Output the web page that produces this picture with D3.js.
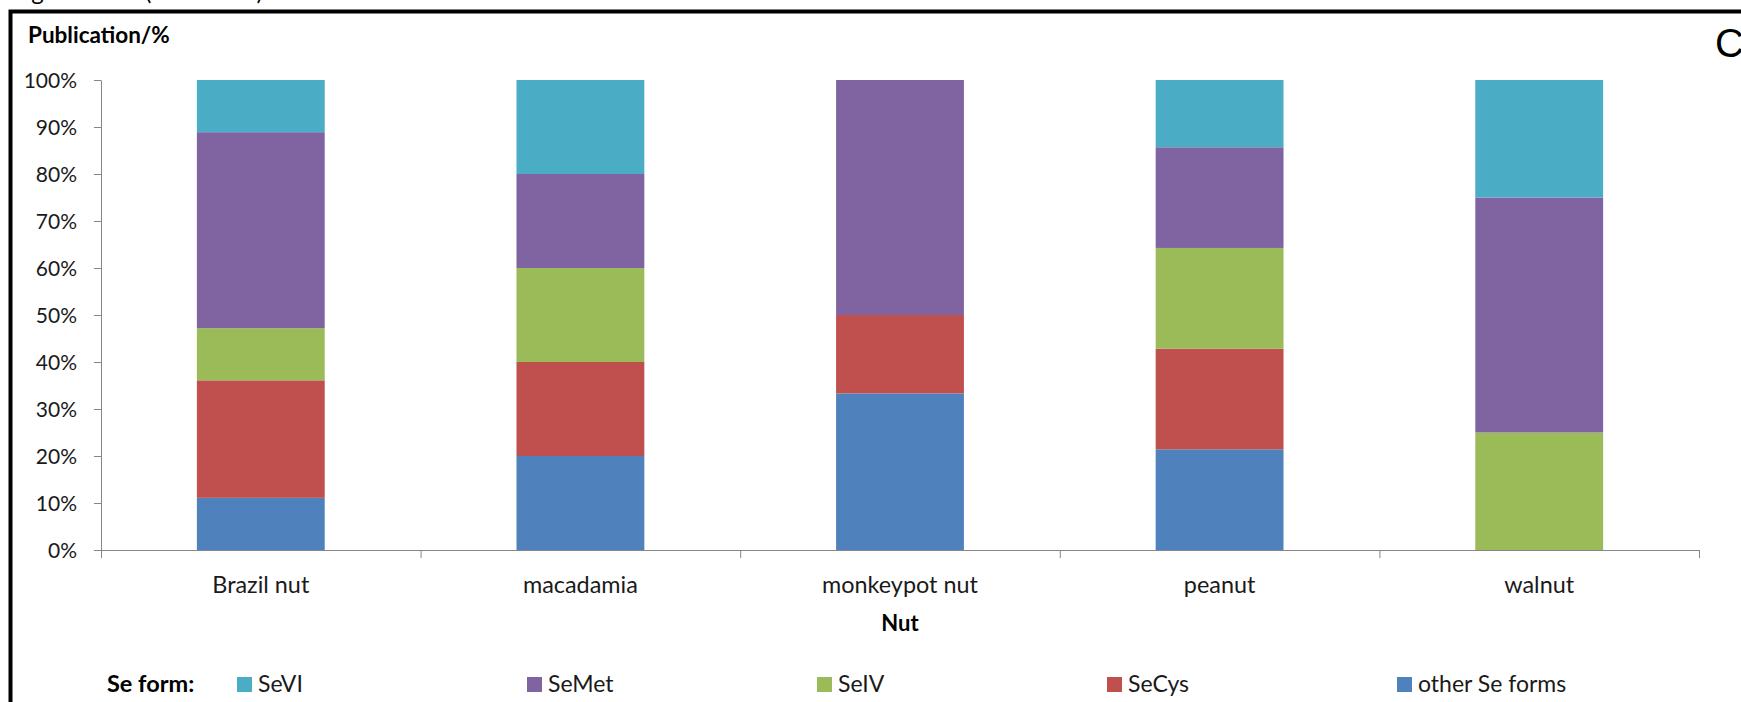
<!DOCTYPE html>
<html>
<head>
<meta charset="utf-8">
<script src="https://cdn.jsdelivr.net/npm/d3@7"></script>
<style>
    body { margin: 0; background: #fff; }
    svg { display: block; font-family: Lato, "Liberation Sans", sans-serif; }
    .os path, .os line { stroke: #868686; }
    .os text { fill: #1a1a1a; font-size: 21px; font-family: Lato, "Liberation Sans", sans-serif; }
</style>
</head>
<body>
<div id="graf"></div>
<script>
// podaci ocitani sa slike (udio publikacija po obliku selena, %)
const orasi = ["Brazil nut", "macadamia", "monkeypot nut", "peanut", "walnut"];
const oblici = ["other Se forms", "SeCys", "SeIV", "SeMet", "SeVI"]; // redoslijed slaganja odozdo
const ostaliSe = [11.1, 20, 33.3, 21.4, 0];
const seCys = [25, 20, 16.7, 21.4, 0];
const seIV = [11.1, 20, 0, 21.4, 25];
const seMet = [41.7, 20, 50, 21.4, 50];
const seVI = [11.1, 20, 0, 14.3, 25];
const boje = ["#4F81BD", "#C0504D", "#9BBB59", "#8064A2", "#4BACC6"];
const yOznake = [0, 0.1, 0.2, 0.3, 0.4, 0.5, 0.6, 0.7, 0.8, 0.9, 1];
const legendaRed = ["SeVI", "SeMet", "SeIV", "SeCys", "other Se forms"];

function crtaj() {
    const dimenzije = {
        sirina: 1741,
        visina: 702,
        margine: { top: 80, right: 42, bottom: 152, left: 101 },
    };
    dimenzije.grSirina = dimenzije.sirina - dimenzije.margine.left - dimenzije.margine.right;
    dimenzije.grVisina = dimenzije.visina - dimenzije.margine.top - dimenzije.margine.bottom;

    const okvir = d3.select("#graf")
        .append("svg")
        .attr("width", dimenzije.sirina)
        .attr("height", dimenzije.visina);

    // okvir slike i natpisi izvan grafa
    okvir.append("rect")
        .attr("x", 10.5)
        .attr("y", 11.5)
        .attr("width", 1900)
        .attr("height", 900)
        .attr("fill", "none")
        .attr("stroke", "#000")
        .attr("stroke-width", 4);

    const potpis = okvir.append("text")
        .attr("y", 0)
        .style("font-size", "24px");
    potpis.append("tspan").attr("x", 12).text("Figure 3");
    potpis.append("tspan").attr("x", 145).text("(continued)");

    okvir.append("text")
        .attr("x", 1715)
        .attr("y", 57)
        .style("font-family", "'Liberation Sans', Arial, sans-serif")
        .style("font-size", "40px")
        .text("C");

    okvir.append("text")
        .attr("x", 28)
        .attr("y", 43)
        .style("font-size", "22.5px")
        .style("font-weight", "bold")
        .text("Publication/%");

    const granice = okvir.append("g")
        .attr("transform", `translate(${dimenzije.margine.left},${dimenzije.margine.top})`);

    // skale
    const xSkala = d3.scaleBand()
        .domain(orasi)
        .range([0, dimenzije.grSirina])
        .paddingInner(0.6)
        .paddingOuter(0.3);

    const xGranice = d3.scaleLinear()
        .domain([0, orasi.length])
        .range([0, dimenzije.grSirina]);

    const ySkala = d3.scaleLinear()
        .domain([0, 1])
        .range([dimenzije.grVisina, 0]);

    // tablica za d3.stack
    const serije = [ostaliSe, seCys, seIV, seMet, seVI];
    const tablica = orasi.map((o, i) => {
        const red = { orah: o };
        oblici.forEach((f, j) => red[f] = serije[j][i]);
        return red;
    });

    const slojevi = d3.stack()
        .keys(oblici)
        .offset(d3.stackOffsetExpand)(tablica);

    const bojaSkala = d3.scaleOrdinal().domain(oblici).range(boje);

    granice.append("g")
        .selectAll("g")
        .data(slojevi)
        .join("g")
        .attr("fill", d => bojaSkala(d.key))
        .selectAll("rect")
        .data(d => d)
        .join("rect")
        .attr("x", d => xSkala(d.data.orah))
        .attr("y", d => ySkala(d[1]))
        .attr("width", xSkala.bandwidth())
        .attr("height", d => ySkala(d[0]) - ySkala(d[1]));

    // osi
    const yOs = granice.append("g")
        .attr("class", "os")
        .call(d3.axisLeft(ySkala)
            .tickValues(yOznake)
            .tickFormat(d3.format(".0%"))
            .tickSize(7)
            .tickSizeOuter(0)
            .tickPadding(17));
    yOs.selectAll("text").attr("dy", "0.35em");

    granice.append("g")
        .attr("class", "os")
        .attr("transform", `translate(0,${dimenzije.grVisina})`)
        .call(d3.axisBottom(xGranice)
            .ticks(orasi.length)
            .tickFormat("")
            .tickSize(8)
            .tickSizeOuter(0));

    granice.append("g")
        .selectAll("text")
        .data(orasi)
        .join("text")
        .attr("x", d => xSkala(d) + xSkala.bandwidth() / 2)
        .attr("y", dimenzije.grVisina + 43)
        .attr("text-anchor", "middle")
        .style("font-size", "23.4px")
        .style("fill", "#1a1a1a")
        .text(d => d);

    granice.append("text")
        .attr("x", dimenzije.grSirina / 2)
        .attr("y", dimenzije.grVisina + 81)
        .attr("text-anchor", "middle")
        .style("font-size", "22px")
        .style("font-weight", "bold")
        .text("Nut");

    // legenda
    const legenda = okvir.append("g");
    legenda.append("text")
        .attr("x", 107)
        .attr("y", 692)
        .style("font-size", "23.5px")
        .style("font-weight", "bold")
        .text("Se form:");

    const lX = d3.scalePoint()
        .domain(legendaRed)
        .range([237, 1397]);

    const stavke = legenda.selectAll(".stavka")
        .data(legendaRed)
        .join("g")
        .attr("class", "stavka")
        .attr("transform", d => `translate(${lX(d)},677)`);

    stavke.append("rect")
        .attr("width", 15)
        .attr("height", 15)
        .attr("fill", d => bojaSkala(d));

    stavke.append("text")
        .attr("x", 21)
        .attr("y", 15)
        .style("font-size", "23px")
        .style("fill", "#1a1a1a")
        .text(d => d);
}

crtaj();
</script>
</body>
</html>
